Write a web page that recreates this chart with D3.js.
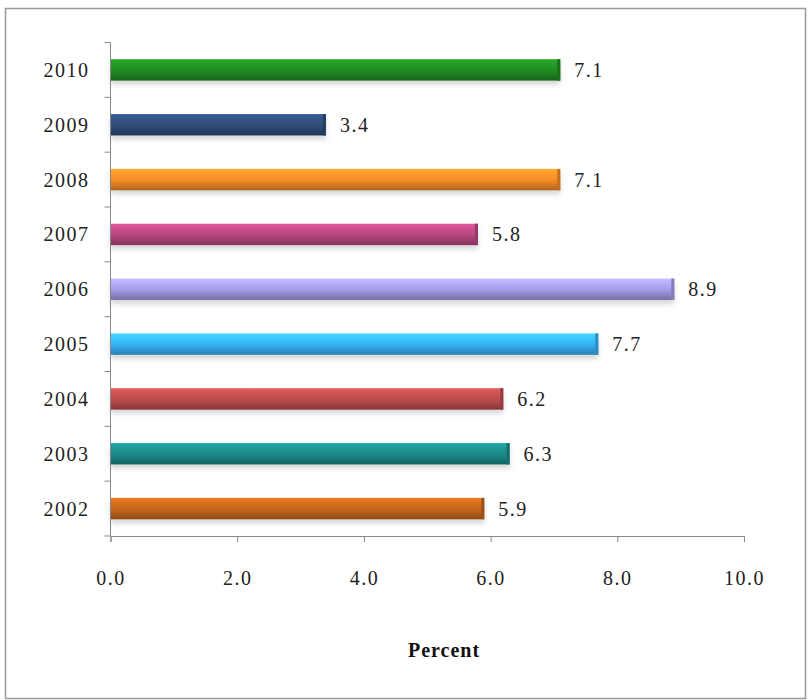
<!DOCTYPE html>
<html>
  <head>
    <meta charset="utf-8">
    <style>
      body { margin: 0; background: #fff; }
    </style>
  </head>
  <body>
    <script src="https://d3js.org/d3.v7.min.js"></script>
    <script>
    var years = ["2010", "2009", "2008", "2007", "2006", "2005", "2004", "2003", "2002"];
    var values = [7.1, 3.4, 7.1, 5.8, 8.9, 7.7, 6.2, 6.3, 5.9];
    var barColors = ["#1f8a22", "#2e4c78", "#f28a26", "#b6467f", "#a19be4",
                     "#35b0f0", "#b94b4c", "#1b8886", "#c2641c"];
    var xTicks = [0, 2, 4, 6, 8, 10];

    var width = 808, height = 700;
    var margin = { top: 42.5, left: 110.5, right: 64, bottom: 164 };
    var serif = "'Liberation Serif', 'Times New Roman', serif";

    var svg = d3.select("body").append("svg")
        .attr("width", width)
        .attr("height", height);

    // frame round the picture
    svg.append("rect")
        .attr("x", 5.5).attr("y", 8.5)
        .attr("width", 800).attr("height", 690)
        .attr("fill", "none")
        .attr("stroke", "#9a9a9a")
        .attr("stroke-width", 1.5);

    var xScale = d3.scaleLinear()
        .domain([0, 10])
        .range([margin.left, width - margin.right]);

    var yScale = d3.scaleBand()
        .domain(years)
        .range([margin.top, height - margin.bottom])
        .paddingInner(0.61)
        .paddingOuter(0.305);

    var defs = svg.append("defs");
    barColors.forEach(function (c, i) {
      var base = d3.color(c);
      var g = defs.append("linearGradient")
          .attr("id", "grad" + i)
          .attr("x1", 0).attr("y1", 0).attr("x2", 0).attr("y2", 1);
      g.append("stop").attr("offset", "0%").attr("stop-color", base.brighter(0.6));
      g.append("stop").attr("offset", "25%").attr("stop-color", base.brighter(0.3));
      g.append("stop").attr("offset", "55%").attr("stop-color", base);
      g.append("stop").attr("offset", "100%").attr("stop-color", base.darker(0.9));
    });

    var shadow = defs.append("filter").attr("id", "shadow")
        .attr("x", "-5%").attr("y", "-50%").attr("width", "110%").attr("height", "250%");
    shadow.append("feGaussianBlur").attr("stdDeviation", 2.5);

    var bars = svg.append("g");

    // soft shadow under each bar
    bars.selectAll("rect.shadow")
      .data(years)
      .enter().append("rect")
        .attr("class", "shadow")
        .attr("x", xScale(0))
        .attr("y", function (d) { return yScale(d) + 4; })
        .attr("width", function (d, i) { return xScale(values[i]) - xScale(0); })
        .attr("height", yScale.bandwidth())
        .attr("fill", "#bbb")
        .attr("opacity", 0.6)
        .attr("filter", "url(#shadow)");

    bars.selectAll("rect.bar")
      .data(years)
      .enter().append("rect")
        .attr("class", "bar")
        .attr("x", xScale(0))
        .attr("y", function (d) { return yScale(d); })
        .attr("width", function (d, i) { return xScale(values[i]) - xScale(0); })
        .attr("height", yScale.bandwidth())
        .attr("fill", function (d, i) { return "url(#grad" + i + ")"; });

    // darker bevel at the bar ends
    bars.selectAll("rect.end")
      .data(years)
      .enter().append("rect")
        .attr("class", "end")
        .attr("x", function (d, i) { return xScale(values[i]) - 3; })
        .attr("y", function (d) { return yScale(d); })
        .attr("width", 3)
        .attr("height", yScale.bandwidth())
        .attr("fill", function (d, i) { return d3.color(barColors[i]).darker(0.6); });

    svg.selectAll("text.value")
      .data(years)
      .enter().append("text")
        .attr("class", "value")
        .attr("x", function (d, i) { return xScale(values[i]) + 14; })
        .attr("y", function (d) { return yScale(d) + yScale.bandwidth() / 2; })
        .attr("dy", "0.35em")
        .attr("font-family", serif)
        .attr("font-size", 20)
        .attr("letter-spacing", 1.5)
        .attr("fill", "#222")
        .text(function (d, i) { return values[i].toFixed(1); });

    // y axis: ticks sit between the categories
    var yAxis = svg.append("g");
    yAxis.append("line")
        .attr("x1", margin.left).attr("x2", margin.left)
        .attr("y1", margin.top).attr("y2", height - margin.bottom)
        .attr("stroke", "#888");
    var bounds = d3.range(years.length + 1).map(function (k) {
      return margin.top + k * (height - margin.bottom - margin.top) / years.length;
    });
    yAxis.selectAll("line.tick")
      .data(bounds)
      .enter().append("line")
        .attr("class", "tick")
        .attr("x1", margin.left - 6).attr("x2", margin.left)
        .attr("y1", function (d) { return d; })
        .attr("y2", function (d) { return d; })
        .attr("stroke", "#888");
    yAxis.selectAll("text")
      .data(years)
      .enter().append("text")
        .attr("x", margin.left - 21)
        .attr("y", function (d) { return yScale(d) + yScale.bandwidth() / 2; })
        .attr("dy", "0.35em")
        .attr("text-anchor", "end")
        .attr("font-family", serif)
        .attr("font-size", 20)
        .attr("letter-spacing", 1.5)
        .attr("fill", "#222")
        .text(function (d) { return d; });

    var xAxis = svg.append("g")
        .attr("transform", "translate(0," + (height - margin.bottom) + ")")
        .call(d3.axisBottom(xScale)
          .tickValues(xTicks)
          .tickSize(6)
          .tickPadding(29)
          .tickFormat(d3.format(".1f")));
    xAxis.select(".domain").attr("stroke", "#888");
    xAxis.selectAll(".tick line").attr("stroke", "#888");
    xAxis.selectAll(".tick text")
        .attr("font-family", serif)
        .attr("font-size", 20)
        .attr("letter-spacing", 1.5)
        .attr("fill", "#222");

    svg.append("text")
        .attr("x", 444)
        .attr("y", 657)
        .attr("text-anchor", "middle")
        .attr("font-family", serif)
        .attr("font-size", 20)
        .attr("letter-spacing", 1)
        .attr("font-weight", "bold")
        .attr("fill", "#111")
        .text("Percent");
    </script>
  </body>
</html>
